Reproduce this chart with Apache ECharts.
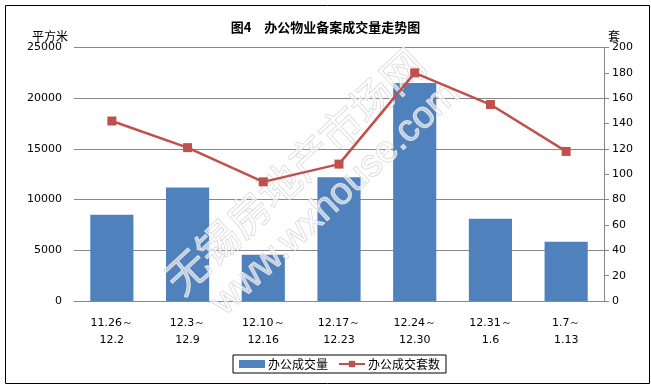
<!DOCTYPE html>
<html><head><meta charset="utf-8">
<script src="https://cdn.jsdelivr.net/npm/echarts@6/dist/echarts.min.js"></script>
<style>html,body{margin:0;padding:0;background:#fff}#c{width:651px;height:386px}</style>
</head><body><div id="c"></div>
<script>
const categories = ["11.26～\n12.2","12.3～\n12.9","12.10～\n12.16","12.17～\n12.23","12.24～\n12.30","12.31～\n1.6","1.7～\n1.13"];
const areaValues = [8500, 11200, 4550, 12200, 21500, 8100, 5850];
const unitValues = [142, 121, 94, 108, 180, 155, 118];
const leftTicks = {min:0, max:25000, interval:5000};
const rightTicks = {min:0, max:200, interval:20};

const numFont = '"DejaVu Sans", sans-serif';
const cjkFont = '"Noto Sans CJK SC", sans-serif';
const chart = echarts.init(document.getElementById('c'));
chart.setOption({
  animation:false,
  backgroundColor:'#fff',
  title:{text:'图4　办公物业备案成交量走势图', left:'center', top:16,
    textStyle:{fontFamily:cjkFont, fontSize:13, fontWeight:'bold', color:'#000'}},
  grid:{left:74, right:47, top:47.5, bottom:85},
  legend:{left:233, top:355, width:213, height:20, padding:[3,6,3,6],
    borderColor:'#000', borderWidth:1, itemGap:10, itemWidth:26, itemHeight:8,
    textStyle:{fontFamily:cjkFont, fontSize:12, color:'#000', padding:[0,0,0,-2]},
    data:[{name:'办公成交量', icon:'rect'},{name:'办公成交套数'}]},
  xAxis:{type:'category', data:categories,
    axisLine:{lineStyle:{color:'#888'}}, axisTick:{show:false},
    axisLabel:{interval:0, fontFamily:numFont, fontSize:11, color:'#000', lineHeight:17, margin:14}},
  yAxis:[
    {type:'value', min:leftTicks.min, max:leftTicks.max, interval:leftTicks.interval,
     name:'平方米', nameLocation:'end', nameGap:2,
     nameTextStyle:{fontFamily:cjkFont, fontSize:12, color:'#000', align:'right', padding:[0,6,0,0]},
     axisLine:{show:false}, axisTick:{show:false},
     axisLabel:{fontFamily:numFont, fontSize:11, color:'#000', margin:12, formatter:v=>String(v)},
     splitLine:{lineStyle:{color:'#888', width:1}}},
    {type:'value', min:rightTicks.min, max:rightTicks.max, interval:rightTicks.interval,
     name:'套', nameLocation:'end', nameGap:0,
     nameTextStyle:{fontFamily:cjkFont, fontSize:12, color:'#000', align:'left', padding:[0,0,0,4]},
     axisLine:{show:true, lineStyle:{color:'#888'}}, axisTick:{show:true, length:5, lineStyle:{color:'#888'}},
     axisLabel:{fontFamily:numFont, fontSize:11, color:'#000', margin:8, formatter:v=>String(v)},
     splitLine:{show:false}}
  ],
  series:[
    {name:'办公成交量', type:'bar', data:areaValues, barWidth:'57%', itemStyle:{color:'#4F81BD'}, z:2},
    {name:'办公成交套数', type:'line', yAxisIndex:1, data:unitValues, symbol:'rect', symbolSize:9,
     lineStyle:{color:'#C0504D', width:2.5}, itemStyle:{color:'#C0504D'}, z:200}
  ],
  graphic:[
    {type:'rect', left:3, top:3, shape:{width:644, height:378}, style:{fill:'none', stroke:'#000', lineWidth:1}, silent:true, z:-1},
    {type:'group', x:186, y:301, rotation:0.75, silent:true, children:[
      {type:'text', x:0, y:0, z:100, style:{text:'无锡房地产市场网', font:'42px "Noto Sans CJK SC"', textVerticalAlign:'bottom', fill:'rgba(255,255,255,0.6)', stroke:'#d2d2d2', lineWidth:1}},
      {type:'text', x:18, y:46, z:100, style:{text:'www.wxhouse.com', font:'38px "Liberation Sans"', textVerticalAlign:'bottom', fill:'rgba(255,255,255,0.6)', stroke:'#d2d2d2', lineWidth:1}}
    ]}
  ]
});
</script></body></html>
